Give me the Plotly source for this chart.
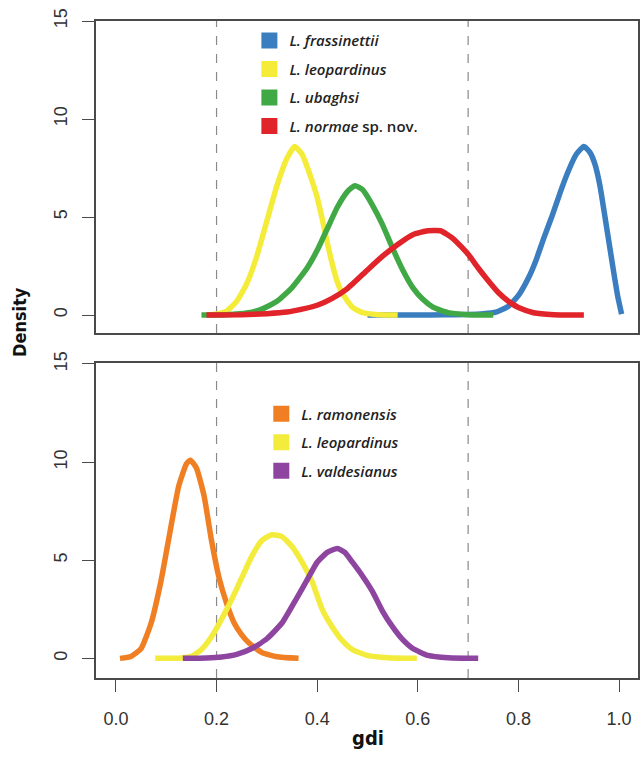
import plotly.graph_objects as go

# ---------------- data ----------------
# Top panel
frass_x = [0.50, 0.55, 0.60, 0.65, 0.70, 0.73, 0.755, 0.78, 0.80, 0.82, 0.835, 0.85, 0.866, 0.885,
           0.90, 0.915, 0.93, 0.942, 0.952, 0.962, 0.972, 0.98, 0.988, 0.997, 1.005]
frass_y = [0.0, 0.0, 0.0, 0.01, 0.03, 0.07, 0.15, 0.45, 1.0, 1.9, 2.8, 3.9, 5.0, 6.4,
           7.4, 8.2, 8.6, 8.3, 7.7, 6.6, 5.0, 3.7, 2.4, 1.0, 0.05]

leo1_x = [0.18, 0.20, 0.22, 0.24, 0.26, 0.28, 0.30, 0.32, 0.34, 0.355, 0.37, 0.385, 0.40, 0.41,
          0.42, 0.43, 0.44, 0.45, 0.47, 0.49, 0.52, 0.56]
leo1_y = [0.0, 0.05, 0.2, 0.7, 1.6, 3.0, 4.8, 6.6, 8.0, 8.6, 8.2, 7.2, 6.0, 4.9,
          3.7, 2.6, 1.7, 1.1, 0.4, 0.12, 0.02, 0.0]

ubag_x = [0.17, 0.22, 0.26, 0.29, 0.32, 0.35, 0.38, 0.40, 0.42, 0.44, 0.46, 0.475, 0.49, 0.51,
          0.53, 0.55, 0.57, 0.59, 0.61, 0.63, 0.66, 0.70, 0.75]
ubag_y = [0.0, 0.02, 0.1, 0.3, 0.7, 1.4, 2.4, 3.3, 4.4, 5.5, 6.3, 6.6, 6.4, 5.6,
          4.6, 3.4, 2.3, 1.4, 0.8, 0.4, 0.12, 0.02, 0.0]

norm_x = [0.18, 0.25, 0.30, 0.34, 0.37, 0.40, 0.43, 0.46, 0.50, 0.53, 0.56, 0.59, 0.62, 0.645,
          0.67, 0.70, 0.72, 0.74, 0.76, 0.78, 0.80, 0.83, 0.87, 0.93]
norm_y = [0.0, 0.02, 0.07, 0.15, 0.3, 0.5, 0.85, 1.35, 2.3, 3.0, 3.6, 4.1, 4.3, 4.3,
          3.9, 3.1, 2.4, 1.75, 1.15, 0.7, 0.38, 0.12, 0.02, 0.0]

# Bottom panel
ramo_x = [0.008, 0.03, 0.05, 0.07, 0.09, 0.11, 0.125, 0.14, 0.148, 0.16, 0.175, 0.19, 0.205,
          0.22, 0.235, 0.25, 0.265, 0.29, 0.32, 0.363]
ramo_y = [0.0, 0.1, 0.5, 1.8, 4.0, 6.8, 8.8, 9.9, 10.1, 9.7, 8.3, 6.0, 4.1,
          2.8, 1.8, 1.2, 0.77, 0.3, 0.08, 0.0]

leo2_x = [0.078, 0.13, 0.15, 0.17, 0.19, 0.21, 0.23, 0.25, 0.27, 0.29, 0.31, 0.33, 0.35, 0.37,
          0.39, 0.41, 0.43, 0.45, 0.47, 0.50, 0.54, 0.598]
leo2_y = [0.0, 0.02, 0.1, 0.45, 1.1, 2.0, 3.0, 4.1, 5.2, 6.0, 6.3, 6.2, 5.7, 4.9,
          3.9, 2.5, 1.6, 0.9, 0.45, 0.15, 0.03, 0.0]

vald_x = [0.133, 0.18, 0.21, 0.24, 0.27, 0.30, 0.33, 0.36, 0.38, 0.40, 0.42, 0.44, 0.455, 0.47,
          0.49, 0.51, 0.53, 0.55, 0.57, 0.59, 0.62, 0.66, 0.72]
vald_y = [0.0, 0.02, 0.07, 0.2, 0.5, 1.0, 1.8, 3.1, 4.0, 4.9, 5.4, 5.6, 5.4, 4.9,
          4.2, 3.4, 2.4, 1.6, 0.95, 0.5, 0.15, 0.03, 0.0]

thresholds = [0.2, 0.7]
x_ticks = [0.0, 0.2, 0.4, 0.6, 0.8, 1.0]
x_ticklabels = ["0.0", "0.2", "0.4", "0.6", "0.8", "1.0"]
y_ticks = [0, 5, 10, 15]
y_ticklabels = ["0", "5", "10", "15"]

top_series = [
    ("<i>L. frassinettii</i>", frass_x, frass_y, "#3B7EC0"),
    ("<i>L. leopardinus</i>", leo1_x, leo1_y, "#F5EC3A"),
    ("<i>L. ubaghsi</i>", ubag_x, ubag_y, "#40A946"),
    ("<i>L. normae</i> sp. nov.", norm_x, norm_y, "#E1232A"),
]
bottom_series = [
    ("<i>L. ramonensis</i>", ramo_x, ramo_y, "#F07E23"),
    ("<i>L. leopardinus</i>", leo2_x, leo2_y, "#F3EC3C"),
    ("<i>L. valdesianus</i>", vald_x, vald_y, "#8E45A0"),
]

fig = go.Figure()

LW = 5.5
LINE_SHAPE = dict(shape="spline", smoothing=0.5)
for name, xs, ys, col in top_series:
    fig.add_trace(go.Scatter(x=xs, y=ys, mode="lines",
                             line=dict(color=col, width=LW, **LINE_SHAPE),
                             xaxis="x", yaxis="y", showlegend=False, hoverinfo="skip"))
for i, (name, xs, ys, col) in enumerate(top_series):
    fig.add_trace(go.Scatter(x=[None], y=[None], mode="markers", name=name,
                             legendgroup=f"t{i}",
                             marker=dict(symbol="square", size=18, color=col),
                             xaxis="x", yaxis="y", legend="legend"))

for name, xs, ys, col in bottom_series:
    fig.add_trace(go.Scatter(x=xs, y=ys, mode="lines",
                             line=dict(color=col, width=LW, **LINE_SHAPE),
                             xaxis="x2", yaxis="y2", showlegend=False, hoverinfo="skip"))
for i, (name, xs, ys, col) in enumerate(bottom_series):
    fig.add_trace(go.Scatter(x=[None], y=[None], mode="markers", name=name,
                             legendgroup=f"b{i}",
                             marker=dict(symbol="square", size=18, color=col),
                             xaxis="x2", yaxis="y2", legend="legend2"))

# threshold lines
shapes = []
for xr, yr in (("x", "y domain"), ("x2", "y2 domain")):
    for t in thresholds:
        shapes.append(dict(type="line", xref=xr, yref=yr, x0=t, x1=t, y0=0, y1=1,
                           line=dict(color="#8a8a8a", width=1.2, dash="dash"), layer="below"))

tick_font = dict(family="Liberation Sans, Arial, sans-serif", size=18, color="#333333")
axis_common = dict(showline=True, mirror=True, linecolor="#4a4a4a", linewidth=1.6,
                   showgrid=False, zeroline=False, ticks="outside", ticklen=12,
                   tickwidth=1.4, tickcolor="#4a4a4a", tickfont=tick_font)

XR = [-0.0396, 1.0376]
legend_font = dict(family="Open Sans, Lato, sans-serif", size=15, color="#222222", weight=600)
label_font = dict(family="DejaVu Sans Condensed, Liberation Sans Narrow, sans-serif",
                  size=18, color="#111111")

fig.update_layout(
    width=641, height=757,
    margin=dict(l=96, r=1, t=21, b=79),
    paper_bgcolor="white", plot_bgcolor="white",
    shapes=shapes,
    xaxis=dict(domain=[0, 1], range=XR, anchor="y", tickvals=x_ticks,
               showticklabels=False, **{**axis_common, "ticks": ""}),
    yaxis=dict(domain=[0.525, 1.0], range=[-0.92, 15], anchor="x", tickvals=y_ticks,
               ticktext=y_ticklabels, tickangle=-90, ticklabelstandoff=8, **axis_common),
    xaxis2=dict(domain=[0, 1], range=XR, anchor="y2", tickvals=x_ticks,
                ticktext=x_ticklabels, ticklabelstandoff=12, **axis_common),
    yaxis2=dict(domain=[0, 0.4795], range=[-1.0, 15.05], anchor="x2", tickvals=y_ticks,
                ticktext=y_ticklabels, tickangle=-90, ticklabelstandoff=8, **axis_common),
    legend=dict(x=0.283, y=0.995, xanchor="left", yanchor="top", bgcolor="rgba(0,0,0,0)",
                font=legend_font, itemsizing="trace", tracegroupgap=6),
    legend2=dict(x=0.305, y=0.427, xanchor="left", yanchor="top", bgcolor="rgba(0,0,0,0)",
                 font=legend_font, itemsizing="trace", tracegroupgap=6),
    annotations=[
        dict(text="<b>Density</b>", xref="paper", yref="paper", x=-0.14, y=0.542,
             xanchor="center", yanchor="middle", showarrow=False, textangle=-90,
             font=label_font),
        dict(text="<b>gdi</b>", xref="paper", yref="paper", x=0.502, y=-0.092,
             xanchor="center", yanchor="middle", showarrow=False,
             font={**label_font, "size": 20}),
    ],
)

fig.write_html("out.html", config={"displayModeBar": False},
               post_script="document.body.style.margin='0px';")
